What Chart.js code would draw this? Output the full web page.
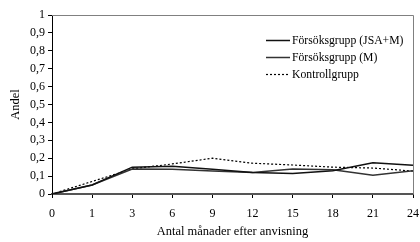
<!DOCTYPE html>
<html><head><meta charset="utf-8">
<script src="https://cdn.jsdelivr.net/npm/chart.js@4/dist/chart.umd.min.js"></script>
<style>html,body{margin:0;padding:0;background:#fff}#wrap{width:420px;height:242px}</style>
</head><body><div id="wrap"><canvas id="c" width="420" height="242"></canvas></div>
<script>
const categories = ['0','1','3','6','9','12','15','18','21','24'];
const jsaM = [0, 0.05, 0.15, 0.155, 0.138, 0.12, 0.115, 0.13, 0.175, 0.16];
const onlyM = [0, 0.05, 0.14, 0.138, 0.128, 0.12, 0.14, 0.135, 0.105, 0.13];
const kontroll = [0, 0.07, 0.14, 0.168, 0.2, 0.172, 0.162, 0.15, 0.145, 0.128];
const seriesNames = ['Försöksgrupp (JSA+M)', 'Försöksgrupp (M)', 'Kontrollgrupp'];
const yTicks = [0,0.1,0.2,0.3,0.4,0.5,0.6,0.7,0.8,0.9,1];

const FONT = "'Liberation Serif','Times New Roman',serif";

const frame = {
  id: 'frame',
  afterDatasetsDraw(chart) {
    const {ctx, chartArea: a} = chart;
    ctx.save();
    ctx.strokeStyle = '#808080';
    ctx.lineWidth = 1;
    ctx.beginPath();
    ctx.moveTo(a.left, a.top + 0.5);
    ctx.lineTo(a.right + 0.5, a.top + 0.5);
    ctx.lineTo(a.right + 0.5, a.bottom);
    ctx.stroke();
    // legend
    const x0 = 266, x1 = 290, ys = [40, 57, 74];
    ctx.font = '11.7px ' + FONT;
    ctx.fillStyle = '#000';
    ctx.textBaseline = 'middle';
    chart.data.datasets.forEach((ds, i) => {
      ctx.strokeStyle = ds.borderColor;
      ctx.lineWidth = ds.borderWidth;
      ctx.setLineDash(ds.borderDash || []);
      ctx.beginPath();
      ctx.moveTo(x0, ys[i] + 0.5);
      ctx.lineTo(x1, ys[i] + 0.5);
      ctx.stroke();
      ctx.setLineDash([]);
      ctx.fillText(ds.label, x1 + 2, ys[i] + 1);
    });
    ctx.restore();
  }
};

new Chart(document.getElementById('c'), {
  type: 'line',
  data: {
    labels: categories,
    datasets: [
      {label: seriesNames[0], data: jsaM, borderColor: '#111', borderWidth: 1.5, pointRadius: 0, tension: 0},
      {label: seriesNames[1], data: onlyM, borderColor: '#333', borderWidth: 1.5, pointRadius: 0, tension: 0},
      {label: seriesNames[2], data: kontroll, borderColor: '#000', borderWidth: 1.2, borderDash: [2, 2], pointRadius: 0, tension: 0}
    ]
  },
  options: {
    responsive: false,
    animation: false,
    devicePixelRatio: 1,
    layout: {padding: {left: 0, right: 0, top: 15, bottom: 0}},
    plugins: {legend: {display: false}, tooltip: {enabled: false}},
    scales: {
      x: {
        type: 'category',
        offset: false,
        grid: {display: true, drawOnChartArea: false, color: '#000', tickLength: 4},
        border: {display: true, color: '#555', width: 2},
        ticks: {font: {family: FONT, size: 12}, color: '#000', padding: 9, maxRotation: 0, autoSkip: false},
        title: {display: true, text: 'Antal månader efter anvisning', font: {family: FONT, size: 12.5}, color: '#000', padding: {top: 0, bottom: 3}, align: 'center'},
        afterFit(s) { s.height = 48; s.paddingRight = 7; }
      },
      y: {
        min: 0, max: 1,
        afterBuildTicks(s) { s.ticks = yTicks.map(v => ({value: v})); },
        grid: {display: true, drawOnChartArea: false, color: '#000', tickLength: 4},
        border: {display: true, color: '#000', width: 1},
        ticks: {font: {family: FONT, size: 12}, color: '#000', padding: 3,
          callback: v => String(Math.round(v * 10) / 10).replace('.', ',')},
        title: {display: true, text: 'Andel', font: {family: FONT, size: 12.5}, color: '#000', padding: {top: 8, bottom: 2}},
        afterFit(s) { s.width = 52; }
      }
    }
  },
  plugins: [frame]
});
</script></body></html>
